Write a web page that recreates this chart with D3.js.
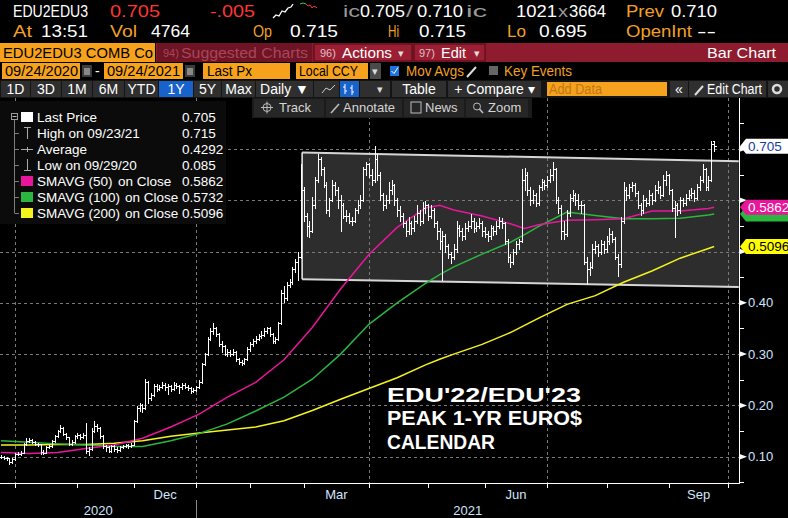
<!DOCTYPE html>
<html><head><meta charset="utf-8">
<script src="https://cdn.jsdelivr.net/npm/d3@7"></script>
<style>
html,body{margin:0;padding:0;background:#000;overflow:hidden}
svg{display:block}
text{font-family:"Liberation Sans",Arial,sans-serif}
</style></head><body>
<svg id="c" width="788" height="518"></svg>
<script>
// ---------------- DATA ----------------
const closes = [
.100,.098,.097,.090,.095,.105,.106,.108,.125,.130,
.133,.128,.125,.124,.110,.108,.118,.120,.130,.140,
.150,.155,.145,.138,.125,.128,.140,.142,.138,.143,
.112,.115,.150,.160,.155,.140,.120,.118,.112,.120,
.115,.113,.118,.120,.122,.120,.123,.170,.195,.200,
.195,.245,.215,.220,.238,.232,.236,.240,.235,.238,
.232,.240,.237,.235,.240,.236,.233,.228,.230,.235,
.245,.280,.300,.330,.345,.350,.340,.320,.315,.300,
.305,.300,.305,.290,.285,.282,.290,.310,.320,.325,
.330,.335,.338,.345,.350,.340,.325,.330,.360,.420,
.410,.435,.440,.465,.480,.490,.620,.570,.550,.540,
.590,.640,.680,.660,.630,.580,.600,.630,.620,.600,
.590,.570,.570,.560,.560,.580,.590,.600,.660,.670,
.650,.640,.680,.650,.610,.590,.600,.620,.630,.600,
.580,.570,.555,.540,.555,.545,.560,.575,.560,.585,
.590,.570,.580,.555,.540,.520,.530,.510,.495,.490,
.505,.545,.540,.530,.545,.550,.560,.545,.550,.555,
.540,.535,.530,.545,.540,.550,.560,.555,.520,.490,
.480,.500,.515,.520,.640,.650,.620,.600,.610,.595,
.625,.635,.630,.640,.650,.660,.600,.585,.540,.535,
.575,.605,.610,.600,.590,.590,.480,.465,.470,.505,
.510,.500,.515,.505,.520,.535,.525,.490,.475,.560,
.620,.610,.625,.630,.615,.590,.580,.600,.595,.610,
.600,.620,.625,.610,.640,.650,.620,.585,.590,.580,
.600,.595,.605,.610,.615,.605,.625,.640,.660,.625,
.640,.710,.705];
const highs = [
.103,.101,.099,.098,.097,.107,.109,.112,.127,.136,
.136,.134,.130,.127,.125,.113,.120,.123,.132,.143,
.153,.162,.157,.147,.139,.132,.143,.146,.144,.146,
.165,.118,.155,.170,.163,.157,.142,.123,.120,.123,
.122,.118,.121,.123,.125,.124,.126,.172,.198,.205,
.203,.252,.247,.225,.242,.241,.240,.245,.243,.242,
.240,.245,.243,.240,.244,.243,.239,.236,.233,.238,
.250,.282,.303,.333,.350,.361,.352,.342,.325,.318,
.310,.308,.309,.306,.293,.288,.293,.313,.323,.330,
.335,.340,.345,.350,.353,.352,.342,.333,.362,.425,
.432,.440,.447,.470,.485,.500,.670,.625,.575,.560,
.606,.645,.690,.684,.665,.635,.605,.640,.635,.625,
.610,.595,.580,.575,.568,.585,.600,.610,.665,.675,
.672,.660,.706,.690,.655,.615,.610,.635,.640,.632,
.605,.588,.575,.560,.567,.560,.570,.590,.580,.597,
.598,.593,.590,.585,.560,.545,.540,.535,.515,.500,
.515,.560,.552,.545,.555,.560,.573,.565,.558,.565,
.560,.548,.540,.552,.550,.560,.567,.565,.558,.525,
.495,.505,.520,.525,.660,.662,.655,.625,.620,.615,
.630,.642,.640,.648,.660,.674,.662,.606,.590,.560,
.580,.612,.620,.615,.612,.598,.592,.490,.480,.515,
.520,.515,.522,.520,.530,.545,.540,.528,.495,.567,
.635,.625,.632,.636,.633,.618,.595,.610,.605,.620,
.615,.630,.638,.628,.650,.656,.652,.622,.598,.594,
.606,.605,.612,.620,.623,.620,.632,.648,.670,.663,
.648,.715,.715];
const lows = [
.097,.096,.094,.085,.088,.094,.103,.104,.107,.123,
.128,.126,.122,.121,.106,.105,.107,.116,.119,.128,
.138,.148,.142,.134,.122,.123,.127,.137,.135,.136,
.107,.104,.114,.148,.150,.137,.117,.112,.109,.110,
.112,.109,.111,.116,.118,.117,.118,.122,.168,.190,
.188,.193,.205,.210,.218,.228,.230,.233,.230,.222,
.229,.230,.233,.225,.232,.233,.230,.225,.226,.228,
.233,.243,.278,.298,.327,.340,.335,.315,.305,.298,
.297,.296,.298,.286,.281,.279,.280,.288,.307,.316,
.322,.328,.332,.335,.342,.336,.322,.322,.328,.358,
.402,.405,.430,.437,.460,.445,.488,.560,.530,.528,
.538,.585,.635,.650,.625,.575,.570,.598,.610,.585,
.540,.565,.560,.555,.552,.557,.575,.585,.598,.650,
.645,.630,.635,.640,.600,.580,.585,.595,.612,.590,
.570,.560,.548,.530,.535,.535,.540,.555,.552,.555,
.575,.562,.565,.548,.525,.505,.444,.500,.488,.478,
.485,.500,.530,.522,.525,.540,.545,.538,.540,.545,
.530,.528,.520,.525,.532,.535,.545,.545,.515,.480,
.470,.475,.495,.505,.518,.620,.610,.590,.595,.588,
.590,.620,.622,.625,.635,.640,.595,.575,.525,.525,
.530,.570,.598,.590,.582,.575,.475,.437,.455,.468,
.498,.492,.495,.498,.500,.515,.518,.485,.453,.470,
.555,.600,.605,.618,.608,.585,.572,.576,.588,.590,
.592,.598,.615,.604,.608,.630,.612,.578,.528,.572,
.576,.588,.590,.600,.605,.598,.602,.620,.636,.619,
.620,.638,.695];
const firstOpen = 0.100;
const lastOpen = 0.715;

const maIdx  = [0,10,20,30,40,50,60,70,80,90,100,110,120,130,140,150,155,160,170,180,185,190,200,210,220,230,240,250,252];
const sma50  = [0.108,0.106,0.108,0.116,0.123,0.136,0.158,0.183,0.216,0.245,0.289,0.352,0.427,0.494,0.547,0.585,0.590,0.581,0.569,0.554,0.545,0.552,0.561,0.562,0.564,0.579,0.579,0.584,0.5862];
const sma100 = [0.131,0.128,0.125,0.123,0.120,0.120,0.131,0.145,0.164,0.189,0.216,0.251,0.300,0.358,0.400,0.438,0.455,0.470,0.495,0.518,0.533,0.549,0.577,0.570,0.564,0.564,0.565,0.571,0.5732];
const sma200 = [0.123,0.123,0.124,0.124,0.126,0.131,0.140,0.146,0.152,0.158,0.170,0.190,0.212,0.233,0.254,0.279,0.290,0.300,0.319,0.342,0.356,0.370,0.397,0.414,0.440,0.462,0.487,0.506,0.5096];

const channelIdx    = [106.4, 260.7];
const channelTop    = [0.693, 0.676];
const channelBottom = [0.446, 0.431];

const yTicks = [0.10,0.20,0.30,0.40,0.50,0.60,0.70];
const yMinor = [0.05,0.15,0.25,0.35,0.45,0.55,0.65,0.75];
const yTickLabels = ["0.10","0.20","0.30","0.40","0.50","0.60","0.70"];

const startDate = "2020-09-24", calendarEnd = "2021-10-08";
const holidays = ["2020-11-26","2020-12-25","2021-01-01","2021-01-18","2021-02-15","2021-04-02","2021-05-31","2021-07-05","2021-09-06"];
const labeledMonths = {11:"Dec",2:"Mar",5:"Jun",8:"Sep"};

const legendNames  = ["Last Price","High on 09/23/21","Average","Low on 09/29/20","SMAVG (50)","SMAVG (100)","SMAVG (200)"];
const legendSuffix = ["","","","","on Close","on Close","on Close"];
const legendValues = ["0.705","0.715","0.4292","0.085","0.5862","0.5732","0.5096"];
const maColors = ["#e8169b","#2bb640","#f4f41c"];
const noteLines = ["EDU'22/EDU'23","PEAK 1-YR EURO$","CALENDAR"];

// ---------------- SETUP ----------------
const svg = d3.select("#c");
svg.append("rect").attr("width",788).attr("height",518).attr("fill","#000");

const AX = 739, TOP = 98, BOT = 483;
const x = d3.scaleLinear().domain([0,261]).range([1,739.6]);
const y = d3.scaleLinear().domain([0.05,0.80]).range([482.35,97.6]);

function days(){
  const out=[]; let d=new Date(startDate+"T12:00:00Z"); const end=new Date(calendarEnd+"T12:00:00Z");
  while(d<=end){ const wd=d.getUTCDay(); const iso=d.toISOString().slice(0,10);
    if(wd!==0 && wd!==6 && !holidays.includes(iso)) out.push(new Date(d));
    d.setUTCDate(d.getUTCDate()+1);}
  return out;
}
const cal = days();
const monthStarts = [];
cal.forEach((d,i)=>{ if(i>0 && d.getUTCMonth()!==cal[i-1].getUTCMonth()) monthStarts.push({i, m:d.getUTCMonth(), yr:d.getUTCFullYear()}); });

function T(px,py,s,fill,size,o={}){
  const t=svg.append("text").attr("x",px).attr("y",py).attr("fill",fill).attr("font-size",size).text(s);
  if(o.w) t.attr("textLength",o.w).attr("lengthAdjust","spacingAndGlyphs");
  if(o.weight) t.attr("font-weight",o.weight);
  if(o.anchor) t.attr("text-anchor",o.anchor);
  return t;
}
function R(px,py,w,h,fill,stroke){ const r=svg.append("rect").attr("x",px).attr("y",py).attr("width",w).attr("height",h).attr("fill",fill); if(stroke) r.attr("stroke",stroke); return r;}

// ---------------- PLOT ----------------
const plot = svg.append("g");
const cpts = [[x(channelIdx[0]),y(channelTop[0])],[x(channelIdx[1]),y(channelTop[1])],[x(channelIdx[1]),y(channelBottom[1])],[x(channelIdx[0]),y(channelBottom[0])]];
plot.append("polygon").attr("points",cpts.map(p=>p.join(",")).join(" ")).attr("fill","#2d2d2d");

const grid = plot.append("g").attr("stroke","#7a7a7a").attr("stroke-width",1).attr("stroke-dasharray","3,3").attr("shape-rendering","crispEdges");
yTicks.forEach(v=>{ const yy=Math.round(y(v))+0.5; grid.append("line").attr("x1",0).attr("x2",AX).attr("y1",yy).attr("y2",yy); });
monthStarts.filter(m=>m.m%3===0).forEach(m=>{ const xx=Math.round(x(m.i))+0.5; grid.append("line").attr("x1",xx).attr("x2",xx).attr("y1",TOP).attr("y2",BOT); });

plot.append("line").attr("x1",cpts[0][0]).attr("y1",cpts[0][1]).attr("x2",cpts[1][0]).attr("y2",cpts[1][1]).attr("stroke","#d6d6d6").attr("stroke-width",2);
plot.append("line").attr("x1",cpts[3][0]).attr("y1",cpts[3][1]).attr("x2",cpts[2][0]).attr("y2",cpts[2][1]).attr("stroke","#d6d6d6").attr("stroke-width",2);
plot.append("line").attr("x1",cpts[0][0]).attr("y1",cpts[0][1]).attr("x2",cpts[3][0]).attr("y2",cpts[3][1]).attr("stroke","#f0f0f0").attr("stroke-width",1.5);

const line = d3.line().x(d=>x(d[0])).y(d=>y(d[1]));
[sma200,sma100,sma50].forEach((s,k)=>{
  plot.append("path").attr("d",line(maIdx.map((i,j)=>[i,s[j]]))).attr("fill","none").attr("stroke",maColors[2-k]).attr("stroke-width",1.5);
});

let bp = "";
closes.forEach((c,i)=>{
  const o = i===0 ? firstOpen : (i===closes.length-1 ? lastOpen : closes[i-1]);
  const xx = Math.round(x(i))+0.5;
  const yh = Math.round(y(highs[i])), yl = Math.round(y(lows[i]));
  const yo = Math.round(y(o))+0.5, yc = Math.round(y(c))+0.5;
  bp += `M${xx},${yh}V${yl+1}M${xx-2},${yo}H${xx}M${xx},${yc}H${xx+2}`;
});
plot.append("path").attr("d",bp).attr("stroke","#fff").attr("stroke-width",1).attr("fill","none").attr("shape-rendering","crispEdges");

const noteW = [194,195,108];
noteLines.forEach((s,k)=>T(387,401.5+k*23.8,s,"#fff",20.5,{weight:"bold",w:noteW[k]}));

// ---------------- AXES ----------------
const tagVals = [closes[closes.length-1],0.5862,0.5732,0.5096];
const ax = svg.append("g").attr("shape-rendering","crispEdges");
ax.append("line").attr("x1",AX+0.5).attr("x2",AX+0.5).attr("y1",TOP).attr("y2",BOT+0.5).attr("stroke","#fff");
ax.append("line").attr("x1",0).attr("x2",AX+1).attr("y1",BOT+0.5).attr("y2",BOT+0.5).attr("stroke","#fff");
yMinor.forEach(v=>{ const yy=Math.round(y(v))+0.5; if(yy>TOP&&yy<=BOT+1) ax.append("line").attr("x1",AX).attr("x2",AX+5).attr("y1",yy).attr("y2",yy).attr("stroke","#fff"); });
yTicks.forEach((v,k)=>{
  const yy=y(v);
  svg.append("polygon").attr("points",`${AX},${yy-3} ${AX+8},${yy} ${AX},${yy+3}`).attr("fill","#fff");
  const hidden = tagVals.some(t=>Math.abs(y(t)-yy)<9);
  if(!hidden) T(AX+9,yy+4.6,yTickLabels[k],"#d2e5ff",13);
});
monthStarts.forEach(m=>{ const xx=Math.round(x(m.i))+0.5; ax.append("line").attr("x1",xx).attr("x2",xx).attr("y1",BOT).attr("y2",BOT+5).attr("stroke","#fff"); });
monthStarts.forEach((m,k)=>{
  if(labeledMonths[m.m]!==undefined && k+1<monthStarts.length){
    const cx=(x(m.i)+x(monthStarts[k+1].i))/2;
    T(cx,499,labeledMonths[m.m],"#d2e5ff",13,{anchor:"middle"});
  }
});
const jan = monthStarts.find(m=>m.m===0);
const xj = Math.round(x(jan.i))+0.5;
ax.append("line").attr("x1",xj).attr("x2",xj).attr("y1",500).attr("y2",518).attr("stroke","#8a8a8a");
T(xj/2,515,String(cal[0].getUTCFullYear()),"#d2e5ff",13,{anchor:"middle"});
T((xj+AX)/2,515,String(jan.yr),"#d2e5ff",13,{anchor:"middle"});

function tag(v,fill,txt,label){
  const yy=y(v);
  svg.append("polygon").attr("points",`${AX+1},${yy} ${AX+7},${yy-7.5} 788,${yy-7.5} 788,${yy+7.5} ${AX+7},${yy+7.5}`).attr("fill",fill);
  if(label) T(AX+9,yy+4.8,label,txt,13.5);
}
tag(0.5732,maColors[1],"#fff",null);
tag(0.5862,maColors[0],"#fff",legendValues[4]);
tag(0.5096,"#ffff00","#000",legendValues[6]);
tag(closes[closes.length-1],"#fff","#163d99",legendValues[0]);

// ---------------- LEGEND ----------------
R(0,101,226,123,"#0b0b0b");
const lgY = [117,133,149,165,181,197,213];
svg.append("line").attr("x1",14.5).attr("x2",14.5).attr("y1",119).attr("y2",213).attr("stroke","#7d7d7d");
R(11.5,113.5,6,6,"#0b0b0b","#9a9a9a");
svg.append("line").attr("x1",12.5).attr("x2",16.5).attr("y1",116.5).attr("y2",116.5).attr("stroke","#bbb");
lgY.forEach((yy,k)=>{
  if(k>0) svg.append("line").attr("x1",14.5).attr("x2",19).attr("y1",yy+0.5).attr("y2",yy+0.5).attr("stroke","#7d7d7d");
  if(k===0) R(21,112,12,10,"#fff");
  if(k===1) svg.append("path").attr("d",`M27.5,${yy-6}V${yy+6}M24,${yy-5.5}H31`).attr("stroke","#aaa").attr("fill","none");
  if(k===2) svg.append("path").attr("d",`M21,${yy+0.5}H33M27.5,${yy-2}V${yy+3}`).attr("stroke","#aaa").attr("fill","none");
  if(k===3) svg.append("path").attr("d",`M27.5,${yy-6}V${yy+5.5}M24,${yy+5.5}H31`).attr("stroke","#aaa").attr("fill","none");
  if(k>=4) R(21,yy-5,12,10,maColors[k-4]);
  T(37,yy+5,legendNames[k],"#fff",13.5);
  if(legendSuffix[k]) T(k===4?118:125,yy+5,legendSuffix[k],"#fff",13.5);
  T(182,yy+5,legendValues[k],"#fff",13.5);
});

// ---------------- HEADER ----------------
const OR = "#f3a024", GR = "#9a9a9a";
T(13,17,"EDU2EDU3","#fff",16,{w:75});
T(110,17,legendValues[0],"#ff3434",16,{w:50});
T(210,17,"-.005","#ff3434",16,{w:45});
svg.append("path").attr("d","M273,18L276,15L279,16L282,11L285,12L288,8L291,7L293,4").attr("stroke","#fff").attr("fill","none").attr("stroke-width",1.3);
svg.append("path").attr("d","M300,4L303,3L306,4").attr("stroke","#2bd24a").attr("fill","none");
svg.append("path").attr("d","M306,4L308,6L310,5L312,8L314,6L317,8").attr("stroke","#ff3434").attr("fill","none");
T(343,17,"ic",GR,16,{w:17}); T(360,17,"0.705","#fff",16,{w:45}); T(406,17,"/",GR,16,{w:7});
T(417,17,"0.710","#fff",16,{w:46}); T(466,17,"ic",GR,16,{w:21});
T(516,17,"1021","#fff",16,{w:41}); T(558,17,"x",GR,16,{w:10}); T(569,17,"3664","#fff",16,{w:37});
T(626,17,"Prev",OR,16,{w:38}); T(671,17,"0.710","#fff",16,{w:46});
T(13,37,"At",OR,16,{w:19}); T(41,37,"13:51","#fff",16,{w:47});
T(110,37,"Vol",OR,16,{w:27}); T(151,37,"4764","#fff",16,{w:39});
T(253,37,"Op",OR,16,{w:19}); T(290,37,"0.715","#fff",16,{w:48});
T(388,37,"Hi",OR,16,{w:11}); T(419,37,"0.715","#fff",16,{w:47});
T(507,37,"Lo",OR,16,{w:19}); T(539,37,"0.695","#fff",16,{w:48});
T(626,37,"OpenInt",OR,16,{w:66}); T(697,37,"--","#fff",16,{w:19});

// row 3
R(0,43,155,19,"#f7a21c");
T(3,58,"EDU2EDU3 COMB Co","#000",15,{w:150});
R(156,43,632,19,"#8e1b2e");
R(157,43,155,19,"#6e1424");
T(163,57,"94)","#a8475a",11); T(181,58,"Suggested Charts","#a8475a",15,{w:127});
R(314,44,98,17,"#9b1e33","#4d0a16");
T(320,57,"96)","#d9c0c4",11); T(342,58,"Actions","#fff",15,{w:50}); T(398,57,"▾","#ddd",11);
R(414,44,71,17,"#9b1e33","#4d0a16");
T(419,57,"97)","#d9c0c4",11); T(441,58,"Edit","#fff",15,{w:25}); T(474,57,"▾","#ddd",11);
T(707,58,"Bar Chart","#fff",15,{w:69});

// row 4
R(2,63,78,16,"#f7a21c"); T(5,76,"09/24/2020","#000",14,{w:73});
R(82,65,10,12,"#3c3c3c"); R(84,68,6,7,"#888");
T(95,76,"-","#fff",14);
R(104,63,79,16,"#f7a21c"); T(107,76,"09/24/2021","#000",14,{w:73});
R(185,65,10,12,"#3c3c3c"); R(187,68,6,7,"#888");
R(203,63,87,16,"#f7a21c"); T(207,76,"Last Px","#000",14,{w:45});
R(296,63,72,16,"#f7a21c"); T(299,76,"Local CCY","#000",14,{w:59});
R(370,63,11,16,"#4a4a4a"); T(372,75,"▾","#ddd",11);
R(390,66,9,10,"#1f73e0"); svg.append("path").attr("d","M391.5,71L394,73.5L398,67.5").attr("stroke","#fff").attr("fill","none");
T(406,76,"Mov Avgs",OR,14,{w:58});
svg.append("path").attr("d","M467,77L476,67").attr("stroke","#ddd").attr("stroke-width",2);
R(489,66,9,9,"#666");
T(504,76,"Key Events",OR,14,{w:68});

// row 5 toolbar
R(0,80,788,18,"#141414");
const btns=[[1,29,"1D"],[31,30,"3D"],[62,30,"1M"],[93,31,"6M"],[125,33,"YTD"],[159,34,"1Y"],[194,27,"5Y"],[222,33,"Max"],[256,57,"Daily ▼"],[314,25,""],[340,19,""],[360,30,""],[392,54,"Table"],[448,93,"+ Compare ▾"],[670,18,"«"],[689,77,""],[768,20,""]];
btns.forEach(b=>{ R(b[0],81,b[1],16,b[2]==="1Y"||b[0]===340?"#1862cc":"#2f2f2f"); if(b[2]) T(b[0]+b[1]/2,94,b[2],"#fff",14,{anchor:"middle"}); });
svg.append("path").attr("d","M322,93L326,88L330,90L335,85").attr("stroke","#ccc").attr("fill","none");
svg.append("path").attr("d","M345,84V94M343,87H345M345,91H347M352,85V95M350,88H352M352,92H354").attr("stroke","#fff").attr("fill","none");
T(377,93,"▾","#ddd",11);
R(547,82,120,14,"#f5a21e"); T(549,94,"Add Data","#c07716",14,{w:53});
svg.append("path").attr("d","M695,95L703,86").attr("stroke","#ddd").attr("stroke-width",2);
T(707,94,"Edit Chart","#fff",14,{w:55});
svg.append("circle").attr("cx",777).attr("cy",89).attr("r",4).attr("fill","none").attr("stroke","#ddd").attr("stroke-width",2.5);

// row 6 chart tools
R(252,98,280,20,"#1b1b1b");
[[254,70],[326,76],[404,60],[466,62]].forEach(b=>R(b[0],99,b[1],18,"#262626"));
svg.append("circle").attr("cx",267).attr("cy",107.5).attr("r",4).attr("fill","none").attr("stroke","#bbb");
svg.append("path").attr("d","M261,107.5H273M267,101.5V113.5").attr("stroke","#bbb").attr("fill","none");
T(279,112,"Track","#d5d5d5",13);
svg.append("path").attr("d","M331,113L339,104").attr("stroke","#bbb").attr("stroke-width",1.6);
T(343,112,"Annotate","#d5d5d5",13);
R(411,102,10,11,"none","#bbb");
T(425,112,"News","#d5d5d5",13);
svg.append("circle").attr("cx",477).attr("cy",106.5).attr("r",3.5).attr("fill","none").attr("stroke","#bbb");
svg.append("path").attr("d","M479.5,109L483,113").attr("stroke","#bbb").attr("stroke-width",1.6);
T(488,112,"Zoom","#d5d5d5",13);
</script>
</body></html>
